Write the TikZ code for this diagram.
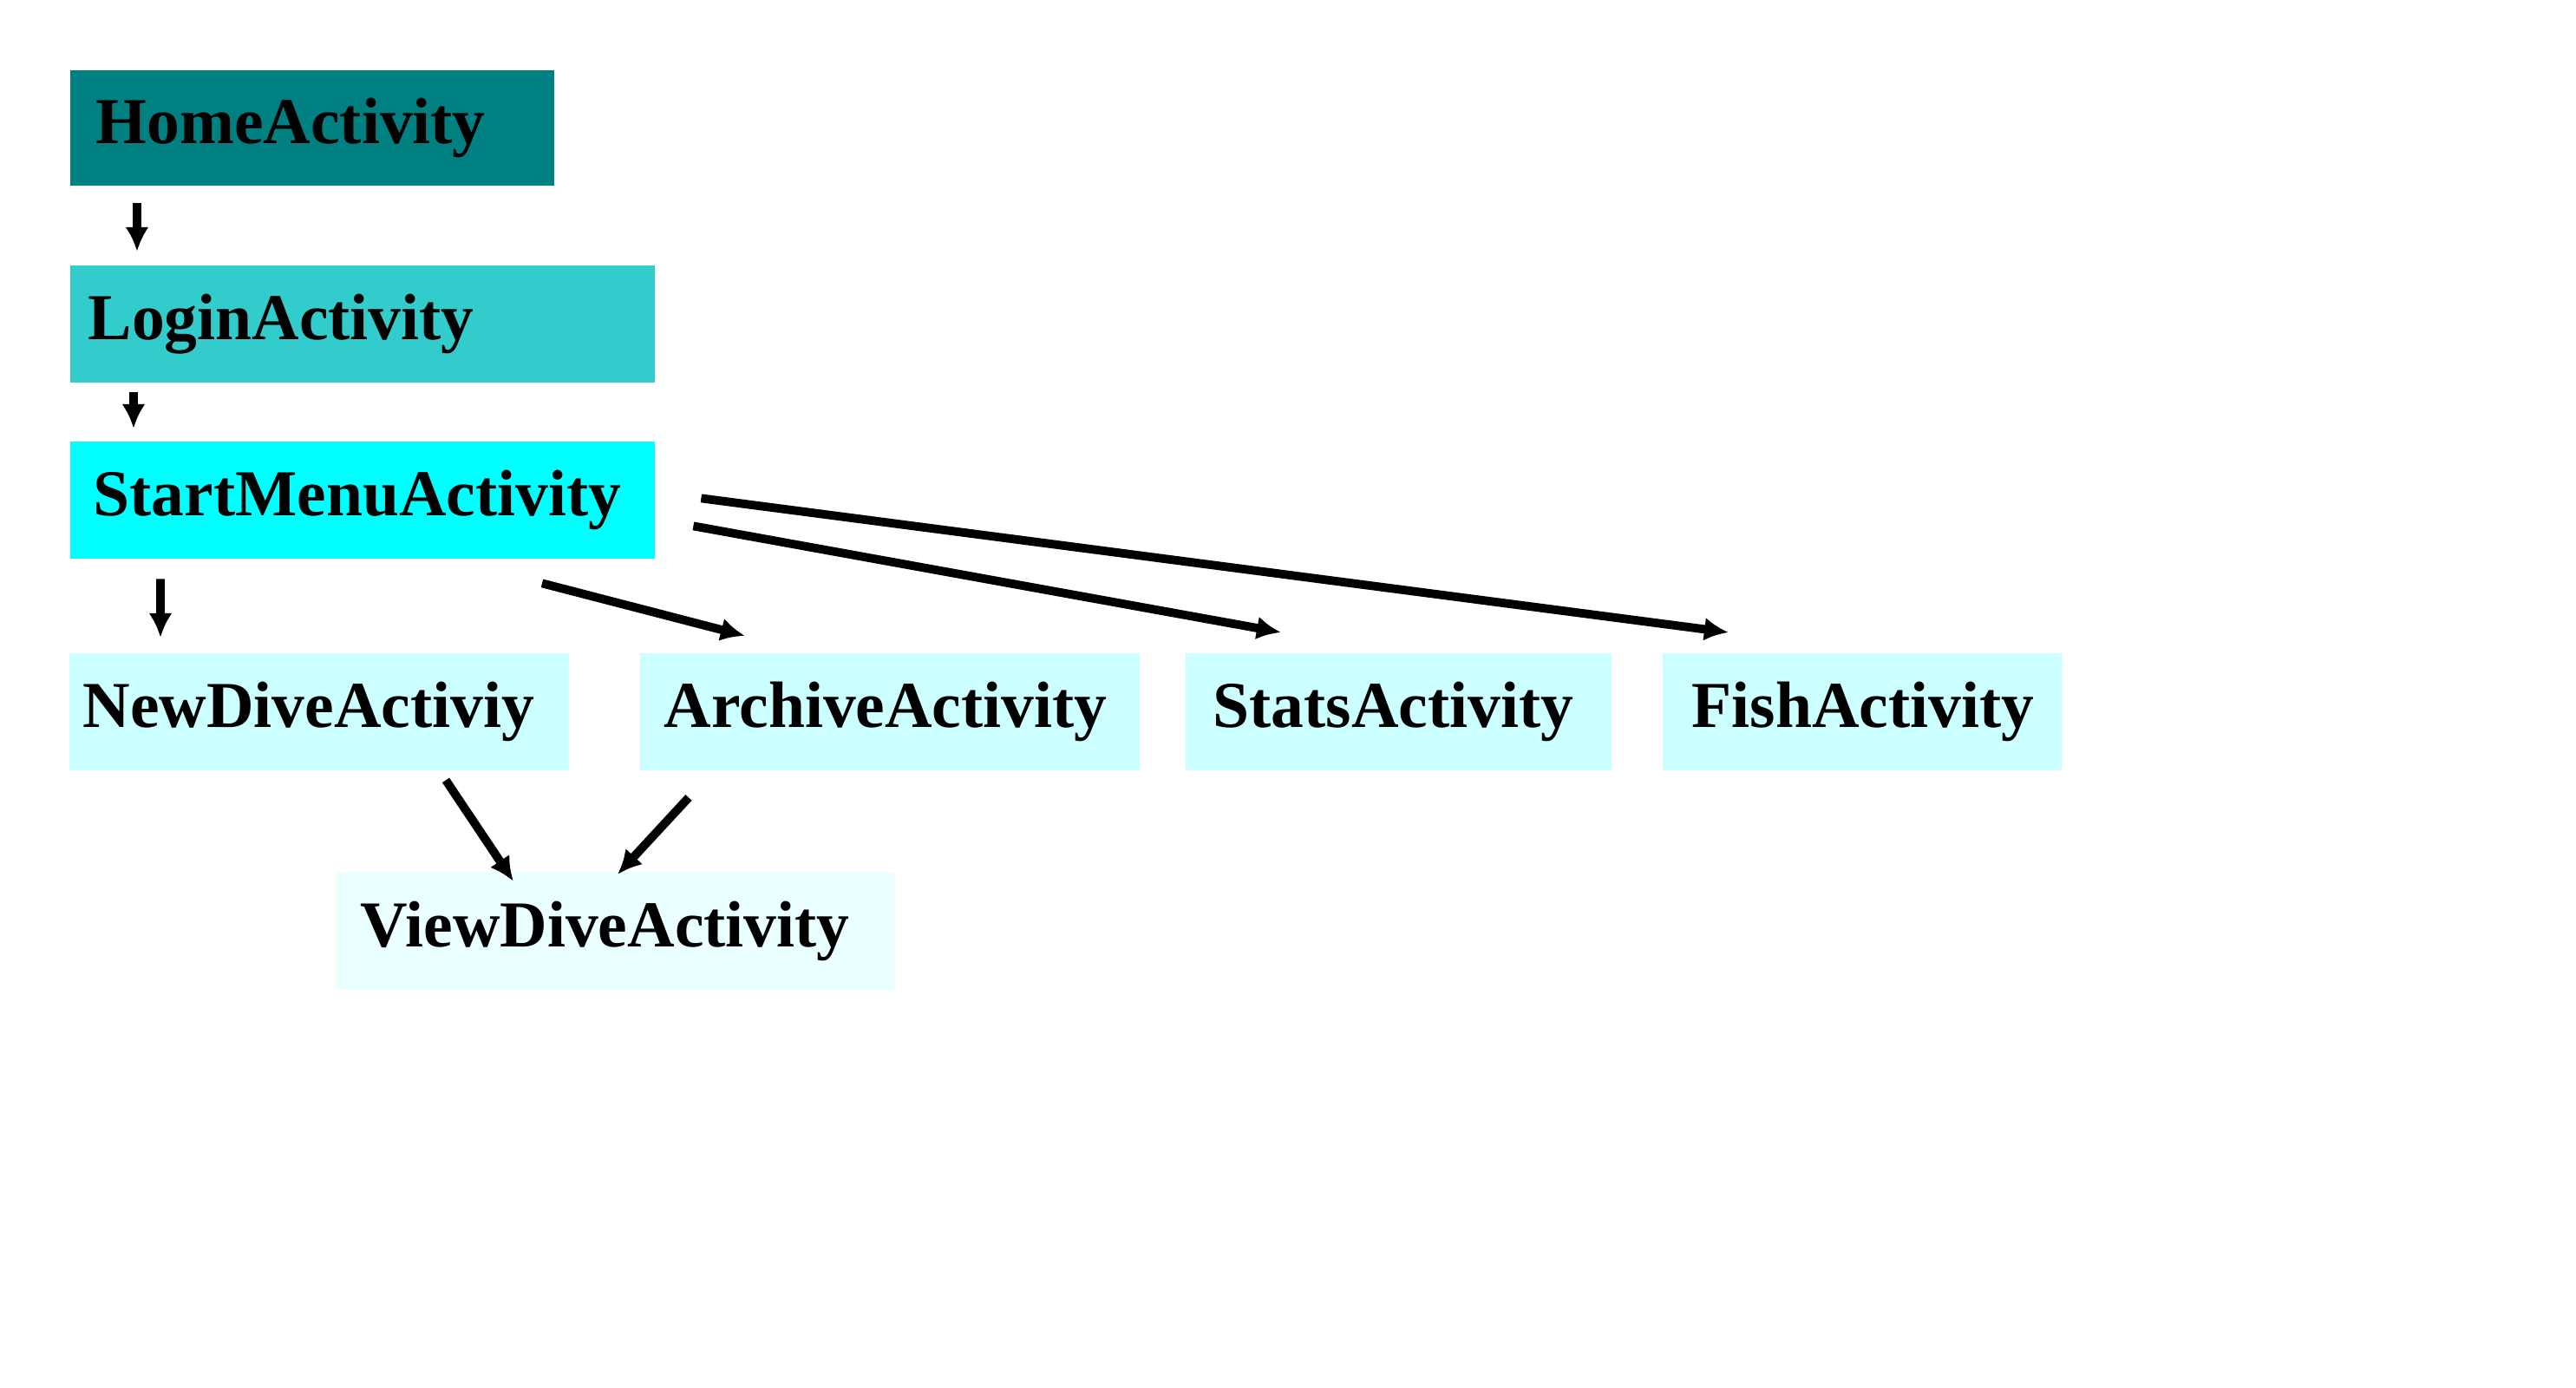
\documentclass[tikz,border=0pt]{standalone}
\usepackage{fontspec}
\setmainfont{Liberation Serif}
\usetikzlibrary{arrows.meta, calc}
\definecolor{homecol}{HTML}{008080}
\definecolor{logincol}{HTML}{33CCCC}
\definecolor{startcol}{HTML}{00FFFF}
\definecolor{subcol}{HTML}{CCFFFF}
\definecolor{viewcol}{HTML}{EAFFFF}
\begin{document}
\begin{tikzpicture}

\tikzset{activity/.style = {anchor=north west, minimum height=1.35cm, inner ysep=0pt, align=left, font=\bfseries\fontsize{21.5}{26}\selectfont}}
\tikzset{edge/.style = {-{Latex[length=2.8mm,width=2.7mm]}, line width=2.8pt}}
\useasboundingbox (0,0) rectangle (29.7,16);
%activities
\node[activity, fill=homecol, minimum height=1.33cm, inner xsep=0.30cm, text width=4.98cm] (home) at (0.80,15.20) {HomeActivity};
\node[activity, fill=logincol, inner xsep=0.21cm, text width=6.32cm] (login) at (0.80,12.95) {LoginActivity};
\node[activity, fill=startcol, inner xsep=0.27cm, text width=6.20cm] (start) at (0.80,10.92) {StartMenuActivity};
\node[activity, fill=subcol, inner xsep=0.16cm, text width=5.44cm] (newdive) at (0.79,8.48) {NewDiveActiviy};
\node[activity, fill=subcol, inner xsep=0.28cm, text width=5.20cm] (archive) at (7.37,8.48) {ArchiveActivity};
\node[activity, fill=subcol, inner xsep=0.32cm, text width=4.27cm] (stats) at (13.66,8.48) {StatsActivity};
\node[activity, fill=subcol, inner xsep=0.34cm, text width=3.92cm] (fish) at (19.16,8.48) {FishActivity};
\node[activity, fill=viewcol, inner xsep=0.28cm, text width=5.88cm] (viewdive) at (3.87,5.95) {ViewDiveActivity};
%edges
\draw[edge] ($(home.south west)+(0.78,-0.20)$) -- ($(login.north west)+(0.78,0.15)$);
\draw[edge] ($(login.south west)+(0.74,-0.11)$) -- ($(start.north west)+(0.74,0.14)$);
\draw[edge] ($(start.south west)+(1.05,-0.23)$) -- ($(newdive.north west)+(1.06,0.17)$);
\draw[edge] ($(start.south west)+(5.45,-0.28)$) -- ($(archive.north west)+(1.22,0.19)$);
\draw[edge] ($(start.south east)+(0.44,0.38)$) -- ($(stats.north west)+(1.11,0.23)$);
\draw[edge] ($(start.south east)+(0.53,0.70)$) -- ($(fish.north west)+(0.77,0.23)$);
\draw[edge] ($(newdive.south west)+(4.35,-0.11)$) -- ($(viewdive.north west)+(2.05,-0.11)$);
\draw[edge] ($(archive.south west)+(0.57,-0.31)$) -- ($(viewdive.north west)+(3.25,-0.03)$);

\end{tikzpicture}
\end{document}
